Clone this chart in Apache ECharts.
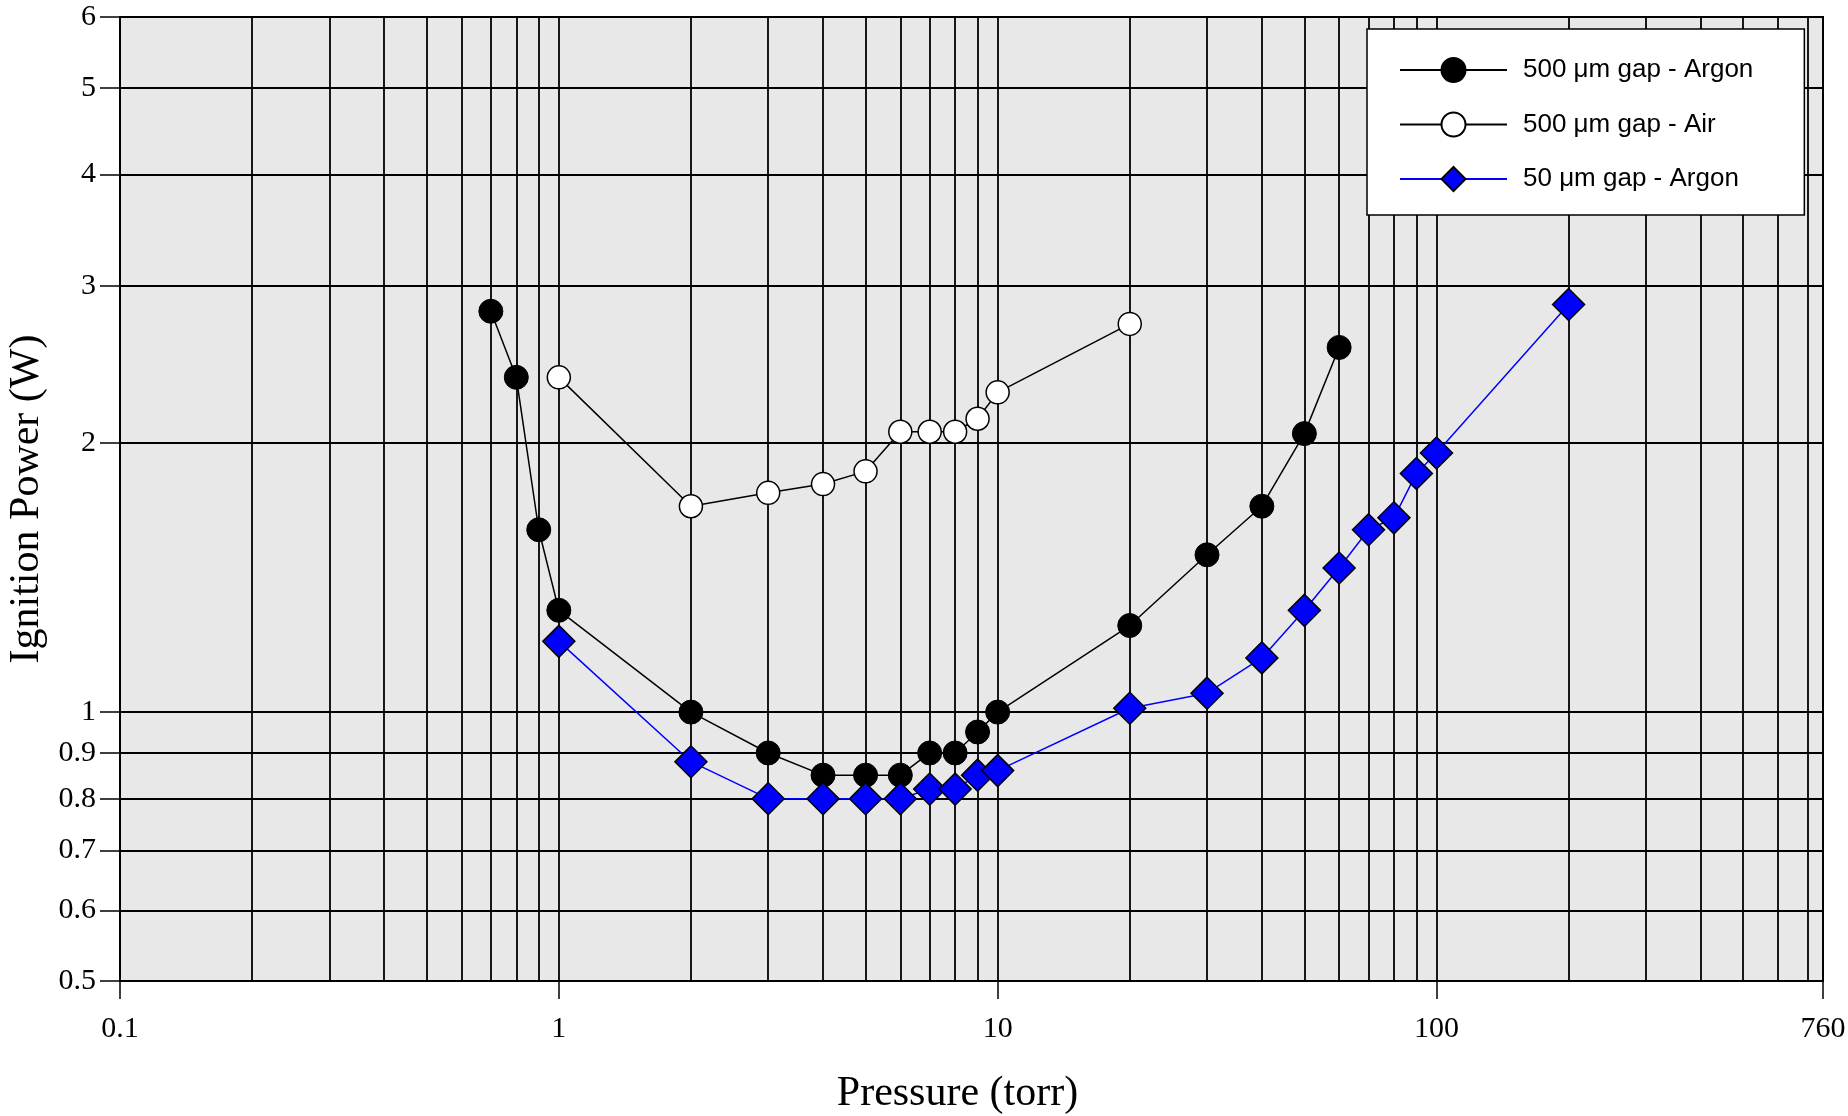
<!DOCTYPE html>
<html style="height: 100%">
<head>
    <meta charset="utf-8">
</head>
<body style="height: 100%; margin: 0; background: #fff">
    <div id="container" style="width: 1848px; height: 1116px"></div>
    <script src="https://cdn.jsdelivr.net/npm/echarts@6.0.0/dist/echarts.min.js"></script>
    <script type="text/javascript">
// pressure (torr) and ignition power (W)
var pressureArgon500 = [0.7, 0.8, 0.9, 1, 2, 3, 4, 5, 6, 7, 8, 9, 10, 20, 30, 40, 50, 60];
var powerArgon500 = [2.81, 2.37, 1.6, 1.3, 1.0, 0.9, 0.85, 0.85, 0.85, 0.9, 0.9, 0.95, 1.0, 1.25, 1.5, 1.7, 2.05, 2.56];

var pressureAir500 = [1, 2, 3, 4, 5, 6, 7, 8, 9, 10, 20];
var powerAir500 = [2.37, 1.7, 1.76, 1.8, 1.86, 2.06, 2.06, 2.06, 2.13, 2.28, 2.72];

var pressureArgon50 = [1, 2, 3, 4, 5, 6, 7, 8, 9, 10, 20, 30, 40, 50, 60, 70, 80, 90, 100, 200];
var powerArgon50 = [1.2, 0.88, 0.8, 0.8, 0.8, 0.8, 0.82, 0.82, 0.85, 0.86, 1.01, 1.05, 1.15, 1.3, 1.45, 1.6, 1.65, 1.85, 1.95, 2.86];

var seriesNames = ['500 μm gap - Argon', '500 μm gap - Air', '50 μm gap - Argon'];

var xTickLabels = [0.1, 1, 10, 100, 760];
var xGridValues = [0.2, 0.3, 0.4, 0.5, 0.6, 0.7, 0.8, 0.9, 1, 2, 3, 4, 5, 6, 7, 8, 9,
    10, 20, 30, 40, 50, 60, 70, 80, 90, 100, 200, 300, 400, 500, 600, 700];
var yTickLabels = [0.5, 0.6, 0.7, 0.8, 0.9, 1, 2, 3, 4, 5, 6];

function pairs(xs, ys) {
    var out = [];
    for (var i = 0; i < xs.length; i++) out.push([xs[i], ys[i]]);
    return out;
}
function fmt(v) {
    return String(Math.round(v * 10) / 10);
}

var serif = 'Liberation Serif';
var dom = document.getElementById('container');
var myChart = echarts.init(dom);
var option = {
    animation: false,
    grid: {
        left: 120, right: 25, top: 17, bottom: 135,
        show: true,
        backgroundColor: '#e8e8e8',
        borderColor: '#000',
        borderWidth: 2,
        outerBoundsMode: 'none'
    },
    legend: {
        orient: 'vertical',
        left: 1367,
        top: 29,
        itemWidth: 107,
        itemHeight: 30,
        itemGap: 28.5,
        padding: [28, 51, 23, 32],
        backgroundColor: '#fff',
        borderColor: '#000',
        borderWidth: 1.5,
        textStyle: {
            fontFamily: 'Liberation Sans',
            fontSize: 26,
            color: '#000',
            padding: [0, 0, 0, 11]
        },
        data: seriesNames
    },
    xAxis: [
        {
            type: 'log',
            logBase: 10,
            min: 0.1,
            max: 760,
            position: 'bottom',
            name: 'Pressure (torr)',
            nameLocation: 'middle',
            nameGap: 92,
            nameTextStyle: {fontFamily: serif, fontSize: 42, color: '#000', padding: [0, 28, 0, 0]},
            axisLine: {lineStyle: {color: '#000', width: 2}},
            axisTick: {show: true, length: 18, customValues: xTickLabels, lineStyle: {color: '#000', width: 1.5}},
            axisLabel: {customValues: xTickLabels, formatter: fmt, fontFamily: serif, fontSize: 30, color: '#000', margin: 33},
            splitLine: {show: false}
        },
        {
            type: 'log',
            logBase: 10,
            min: 0.1,
            max: 760,
            gridIndex: 0,
            position: 'top',
            axisLine: {show: false},
            axisTick: {show: false, customValues: xGridValues},
            axisLabel: {show: false, customValues: xGridValues},
            splitLine: {show: true, lineStyle: {color: '#000', width: 1.8}}
        }
    ],
    yAxis: [
        {
            type: 'log',
            logBase: 10,
            min: 0.5,
            max: 6,
            name: 'Ignition Power (W)',
            nameLocation: 'middle',
            nameGap: 61,
            nameTextStyle: {fontFamily: serif, fontSize: 42, color: '#000'},
            axisLine: {lineStyle: {color: '#000', width: 2}},
            axisTick: {show: true, length: 20, customValues: yTickLabels, lineStyle: {color: '#000', width: 1.5}},
            axisLabel: {customValues: yTickLabels, formatter: fmt, fontFamily: serif, fontSize: 30, color: '#000', margin: 24},
            splitLine: {show: true, lineStyle: {color: '#000', width: 1.8}}
        }
    ],
    series: [
        {
            name: seriesNames[0],
            type: 'line',
            data: pairs(pressureArgon500, powerArgon500),
            symbol: 'circle',
            symbolSize: 24,
            lineStyle: {color: '#000', width: 1.5},
            itemStyle: {color: '#000', borderColor: '#000', borderWidth: 1},
            z: 3
        },
        {
            name: seriesNames[1],
            type: 'line',
            data: pairs(pressureAir500, powerAir500),
            symbol: 'circle',
            symbolSize: 23,
            lineStyle: {color: '#000', width: 1.5},
            itemStyle: {color: '#fff', borderColor: '#000', borderWidth: 1.5},
            z: 3
        },
        {
            name: seriesNames[2],
            type: 'line',
            data: pairs(pressureArgon50, powerArgon50),
            symbol: 'diamond',
            symbolSize: 32,
            lineStyle: {color: '#0000ff', width: 1.5},
            itemStyle: {color: '#0000ff', borderColor: '#000', borderWidth: 1.5},
            z: 4
        }
    ]
};
myChart.setOption(option, true);
    </script>
</body>
</html>
